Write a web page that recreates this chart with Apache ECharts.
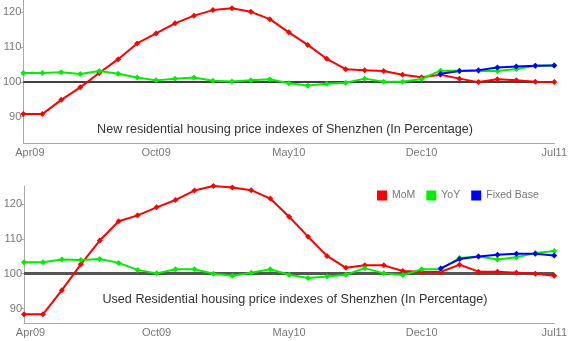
<!DOCTYPE html>
<html>
<head>
<meta charset="utf-8">
<script src="https://cdn.jsdelivr.net/npm/echarts@6/dist/echarts.min.js"></script>
<style>html,body{margin:0;padding:0;background:#fff}#c{width:570px;height:341px}</style>
</head>
<body>
<div id="c"></div>
<script>
// month slots (29 points)
var categories = ['Mar09','Apr09','May09','Jun09','Jul09','Aug09','Sep09','Oct09','Nov09','Dec09',
  'Jan10','Feb10','Mar10','Apr10','May10','Jun10','Jul10','Aug10','Sep10','Oct10','Nov10','Dec10',
  'Jan11','Feb11','Mar11','Apr11','May11','Jun11','Jul11'];
var tickLabels = ['Apr09','Oct09','May10','Dec10','Jul11'];
var yTicks = [90, 100, 110, 120];
var seriesNames = ['MoM', 'YoY', 'Fixed Base'];
var titleNew = 'New residential housing price indexes of Shenzhen (In Percentage)';
var titleUsed = 'Used Residential housing price indexes of Shenzhen (In Percentage)';

// New residential
var newMoM = [90.7,90.7,94.8,98.4,102.5,106.5,111.0,113.9,116.8,119.0,
  120.6,121.1,120.1,118.0,114.2,110.6,106.6,103.6,103.3,103.1,
  102.0,101.3,102.0,100.9,99.9,100.7,100.4,100.0,99.9];
var newYoY = [102.5,102.5,102.7,102.2,103.1,102.3,101.2,100.4,100.9,101.2,
  100.3,100.1,100.4,100.7,99.6,98.9,99.4,99.7,100.9,100.0,
  100.0,100.8,103.2,103.2,103.1,103.1,103.7,104.6,104.7];
var newFixed = [null,null,null,null,null,null,null,null,null,null,
  null,null,null,null,null,null,null,null,null,null,
  null,null,102.3,103.1,103.3,104.1,104.4,104.6,104.7];

// Used residential
var usedMoM = [88.4,88.4,95.3,102.7,109.5,115.0,116.7,119.0,121.1,123.8,
  125.1,124.7,123.9,121.5,116.3,110.6,105.1,101.7,102.4,102.4,
  100.8,100.6,100.5,102.6,100.6,100.6,100.3,100.0,99.4];
var usedYoY = [103.3,103.3,104.1,103.9,104.2,103.1,101.1,100.1,101.3,101.3,
  100.0,99.4,100.3,101.3,99.7,98.8,99.2,99.7,101.6,100.1,
  99.6,101.3,101.3,104.5,104.9,104.1,104.7,105.9,106.5];
var usedFixed = [null,null,null,null,null,null,null,null,null,null,
  null,null,null,null,null,null,null,null,null,null,
  null,null,101.5,104.2,104.9,105.4,105.7,105.7,105.2];

var colors = ['#ff0000', '#00ee00', '#0000ff'];
var FONT = '"Liberation Sans", Arial, sans-serif';

function xAxis(gi) {
  return {
    type: 'category', gridIndex: gi, data: categories, boundaryGap: false,
    axisLine: { lineStyle: { color: '#aaaaaa', width: 1 } },
    axisTick: { show: false },
    axisLabel: {
      color: '#777', fontSize: 11, fontFamily: FONT, margin: 4,
      interval: function (i) { return i % 7 === 0; },
      formatter: function (v, i) {
        var t = tickLabels[Math.round(i / 7)];
        return i === 0 ? '{f|' + t + '}' : t;
      },
      rich: { f: { color: '#777', fontSize: 11, fontFamily: FONT, padding: [0, 0, 0, 13] } }
    },
    splitLine: { show: false }
  };
}
function yAxis(gi, mn, mx) {
  return {
    type: 'value', gridIndex: gi, min: mn, max: mx,
    axisLine: { show: true, lineStyle: { color: '#aaaaaa', width: 1 } },
    axisTick: { show: true, length: 3, customValues: yTicks, lineStyle: { color: '#aaaaaa' } },
    axisLabel: { customValues: yTicks, color: '#777', fontSize: 11, fontFamily: FONT, margin: 2 },
    splitLine: { show: false }
  };
}
function line(name, data, gi, ci, extra) {
  var s = {
    name: name, type: 'line', data: data, xAxisIndex: gi, yAxisIndex: gi,
    symbol: 'diamond', symbolSize: 6, showSymbol: true,
    itemStyle: { color: colors[ci] },
    lineStyle: { color: colors[ci], width: 2 },
    emphasis: { disabled: true }, animation: false
  };
  if (extra) s.markLine = extra;
  return s;
}
function ref(color, width) {
  return { silent: true, symbol: 'none', label: { show: false },
    lineStyle: { color: color, width: width, type: 'solid' },
    data: [{ yAxis: 100 }], z: 1 };
}

var chart = echarts.init(document.getElementById('c'), null, { renderer: 'canvas' });
chart.setOption({
  animation: false,
  backgroundColor: '#ffffff',
  grid: [
    { left: 23, right: 14, top: 0, height: 143 },
    { left: 24, right: 14, top: 186, height: 137 }
  ],
  xAxis: [xAxis(0), xAxis(1)],
  yAxis: [yAxis(0, 82.4, 123.5), yAxis(1, 85.9, 125.1)],
  legend: {
    data: seriesNames, left: 372, top: 185, itemWidth: 10, itemHeight: 10, itemGap: 11,
    icon: 'rect', textStyle: { color: '#777', fontSize: 10.5, fontFamily: FONT },
    selectedMode: false
  },
  graphic: [
    { type: 'text', x: 285, y: 130, style: { text: titleNew, fill: '#333', font: '12.6px ' + FONT, align: 'center', verticalAlign: 'middle' } },
    { type: 'text', x: 295, y: 300, style: { text: titleUsed, fill: '#333', font: '12.6px ' + FONT, align: 'center', verticalAlign: 'middle' } }
  ],
  series: [
    line(seriesNames[0], newMoM, 0, 0, ref('#000000', 1.5)),
    line(seriesNames[1], newYoY, 0, 1),
    line(seriesNames[2], newFixed, 0, 2),
    line(seriesNames[0], usedMoM, 1, 0, ref('#555555', 3)),
    line(seriesNames[1], usedYoY, 1, 1),
    line(seriesNames[2], usedFixed, 1, 2)
  ]
});
</script>
</body>
</html>
